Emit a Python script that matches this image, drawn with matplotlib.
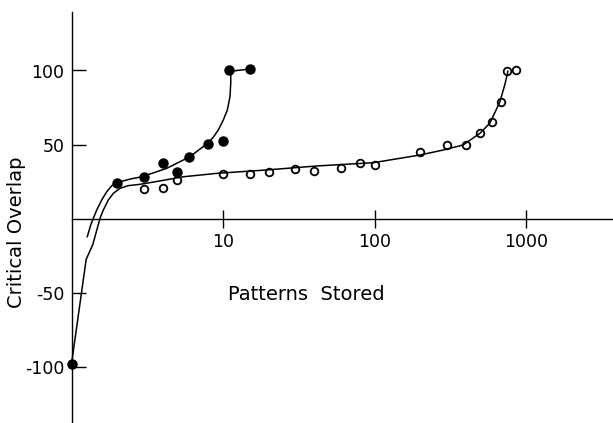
import numpy as np
import matplotlib
matplotlib.use('Agg')
import matplotlib.pyplot as plt

# filled circles (upper series)
filled_x = [1, 2, 3, 4, 5, 6, 8, 10, 11.0, 15]
filled_y = [-98, 24.2, 28.2, 37.5, 31.6, 41.8, 50.3, 52.4, 100, 101]

# open circles (lower series)
open_x = [3, 4, 5, 10, 15, 20, 30, 40, 60, 80, 100, 200, 300, 400, 500, 600, 680, 750, 860]
open_y = [20.1, 20.6, 25.8, 29.9, 30, 31.6, 33.4, 32.1, 33.9, 37.5, 36.1, 44.9, 49.7, 49.7,
          57.8, 65.4, 78.9, 99.9, 100.4]

# hand drawn fit curves
upper_curve_x = [1.271, 1.339, 1.393, 1.467, 1.582, 1.708, 1.842, 2.018, 2.43, 2.91, 3.65,
                 4.25, 6.06, 7.93, 8.63, 9.31, 10.05, 10.68, 11.12, 11.25, 11.25, 15]
upper_curve_y = [-12.3, -4.4, 0.1, 5.7, 12.5, 18.1, 22.1, 24.4, 26.6, 28.2, 31.6,
                 33.9, 41.8, 50.9, 54.9, 59.8, 66.6, 73.3, 82.4, 91.4, 99.5, 101]

lower_curve_x = [1.0, 1.25, 1.38, 1.451, 1.542, 1.621, 1.75, 1.888, 2.09, 2.371, 2.83, 3.65,
                 5.47, 9.09, 19.4, 41.6, 98.2, 199.7, 285, 385, 497, 578, 673, 725, 760]
lower_curve_y = [-98.3, -27.6, -17.8, -9.8, 0.1, 5.7, 12.5, 17.0, 20.4, 22.2, 23.1, 25.0,
                 28.2, 30.5, 32.8, 35.5, 37.7, 42.9, 46.3, 49.7, 57.6, 64.5, 78.9, 90.5, 99.5]

xticks = [10, 100, 1000]
yticks = [-100, -50, 50, 100]
ytick_labels = ['-100', '-50', '50', '100']

W, H = 613, 423
fig = plt.figure(figsize=(W / 100, H / 100), dpi=100)
ax = fig.add_axes([71.5 / W, 0, 1 - 71.5 / W, (H - 12) / H])

ax.set_xscale('log')
ax.set_xlim(1, 10 ** ((W - 71.5) / 151.5))
ax.set_ylim((218.5 - H) / 1.48, (218.5 - 12) / 1.48)

ax.plot(upper_curve_x, upper_curve_y, color='black', lw=1.1, clip_on=False,
        solid_joinstyle='round')
ax.plot(lower_curve_x, lower_curve_y, color='black', lw=1.1, clip_on=False,
        solid_joinstyle='round')
ax.plot(filled_x, filled_y, 'o', color='black', ms=6.5, clip_on=False, zorder=3)
ax.plot(open_x, open_y, 'o', mfc='none', mec='black', mew=1.3, ms=5.5, clip_on=False, zorder=3)

for s in ['top', 'right']:
    ax.spines[s].set_visible(False)
ax.spines['bottom'].set_position(('data', 0))
ax.spines['bottom'].set_linewidth(1.0)
ax.spines['left'].set_linewidth(1.0)

ax.set_xticks(xticks)
ax.set_xticklabels([str(t) for t in xticks])
ax.xaxis.set_minor_locator(matplotlib.ticker.NullLocator())
ax.set_yticks(yticks)
ax.set_yticklabels(ytick_labels)

ax.tick_params(axis='x', direction='inout', length=13, width=1.0, pad=4, labelsize=12.5)
ax.tick_params(axis='y', direction='in', length=10, width=1.0, pad=5, labelsize=12.5)

fig.text(17 / W, (H - 232) / H, 'Critical Overlap', rotation=90, ha='center', va='center',
         fontsize=14)
fig.text(306 / W, (H - 294) / H, 'Patterns  Stored', ha='center', va='center', fontsize=14)

fig.savefig('out.png', dpi=100)
